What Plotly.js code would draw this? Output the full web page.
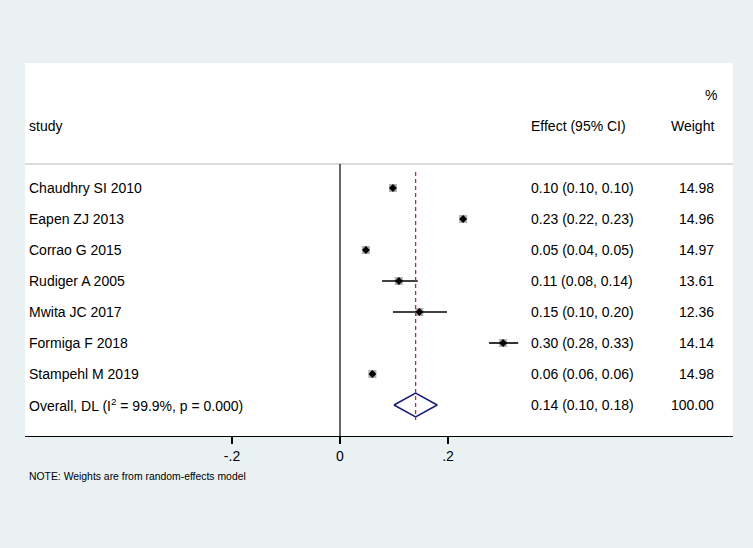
<!DOCTYPE html>
<html>
<head>
<meta charset="utf-8">
<script src="https://cdn.plot.ly/plotly-3.0.1.min.js"></script>
<style>html,body{margin:0;padding:0;background:#eaf1f3;}#chart{width:753px;height:548px;}</style>
</head>
<body>
<div id="chart"></div>
<script>
// ---- data ----
var studies = ["Chaudhry SI 2010","Eapen ZJ 2013","Corrao G 2015","Rudiger A 2005","Mwita JC 2017","Formiga F 2018","Stampehl M 2019"];
var effect  = [0.098, 0.228, 0.048, 0.109, 0.147, 0.302, 0.060];
var lower   = [0.096, 0.224, 0.044, 0.078, 0.098, 0.276, 0.057];
var upper   = [0.100, 0.232, 0.052, 0.144, 0.198, 0.330, 0.063];
var effectText = ["0.10 (0.10, 0.10)","0.23 (0.22, 0.23)","0.05 (0.04, 0.05)","0.11 (0.08, 0.14)","0.15 (0.10, 0.20)","0.30 (0.28, 0.33)","0.06 (0.06, 0.06)"];
var weightText = ["14.98","14.96","14.97","13.61","12.36","14.14","14.98"];
var overallLabel = "Overall, DL (I<sup>2</sup> = 99.9%, p = 0.000)";
var overallEffect = 0.14, overallLower = 0.10, overallUpper = 0.18;
var overallText = "0.14 (0.10, 0.18)", overallWeight = "100.00";
var tickVals = [-0.2, 0, 0.2];
var tickText = ["-.2", "0", ".2"];

// ---- layout helpers ----
var W = 753, H = 548, L = 25, R = 733, T = 63, B = 436;
function px(x){ return (x - L) / (R - L); }
var rows = studies.map(function(_, i){ return i + 1; });
var overallRow = studies.length + 1;
var FONT = "Liberation Sans, Arial, sans-serif";
var dh = 12/31;

var traces = [
  { // weight boxes
    x: effect, y: rows, type: "scatter", mode: "markers",
    marker: {symbol: "square", size: 8, color: "#b0b0b0"},
    hoverinfo: "skip", showlegend: false
  },
  { // CI and point
    x: effect, y: rows, type: "scatter", mode: "markers",
    marker: {symbol: "diamond", size: 6, color: "#000"},
    error_x: {type: "data", symmetric: false,
      array: effect.map(function(e, i){ return upper[i] - e; }),
      arrayminus: effect.map(function(e, i){ return e - lower[i]; }),
      color: "#000", thickness: 1.6, width: 0},
    showlegend: false
  },
  { // overall diamond
    x: [overallLower, overallEffect, overallUpper, overallEffect, overallLower],
    y: [overallRow, overallRow - dh, overallRow, overallRow + dh, overallRow],
    type: "scatter", mode: "lines",
    line: {color: "#1a1a7a", width: 1.5}, showlegend: false, hoverinfo: "skip"
  }
];

var ann = [];
function addText(text, x, y, anchor, size){
  ann.push({text: text, xref: "paper", yref: "y", x: px(x), y: y, xanchor: anchor, yanchor: "middle",
    showarrow: false, font: {family: FONT, size: size || 14, color: "#000"}});
}
addText("%", 719, -2, "right");
addText("study", 27, -1, "left");
addText("Effect (95% CI)", 529, -1, "left");
addText("Weight", 716, -1, "right");
studies.forEach(function(s, i){
  addText(s, 27, rows[i], "left");
  addText(effectText[i], 529, rows[i], "left");
  addText(weightText[i], 716, rows[i], "right");
});
addText(overallLabel, 27, overallRow, "left");
addText(overallText, 529, overallRow, "left");
addText(overallWeight, 716, overallRow, "right");
ann.push({text: "NOTE: Weights are from random-effects model", xref: "paper", yref: "paper",
  x: px(27), y: (H - 476 - 112) / (B - T), xanchor: "left", yanchor: "middle", showarrow: false,
  font: {family: FONT, size: 10.4, color: "#000"}});

var sepRow = 1 - 24/31;
var shapes = [
  {type: "line", xref: "paper", yref: "y", x0: 0, x1: 1, y0: sepRow, y1: sepRow,
   line: {color: "#cfcfcf", width: 1.5}},
  {type: "line", xref: "x", yref: "y", x0: 0, x1: 0, y0: sepRow, y1: 9,
   line: {color: "#000", width: 1.2}},
  {type: "line", xref: "x", yref: "y", x0: overallEffect, x1: overallEffect, y0: 1 - 16/31, y1: 1 + 232/31,
   line: {color: "#c0283c", width: 1.3, dash: "4px,3px"}}
];

var layout = {
  width: W, height: H,
  margin: {l: L, r: W - R, t: T, b: H - B, pad: 0},
  paper_bgcolor: "#eaf1f3", plot_bgcolor: "#ffffff",
  xaxis: {range: [(L - 340)/540, (R - 340)/540], tickvals: tickVals, ticktext: tickText,
    showgrid: false, zeroline: false, showline: true, linecolor: "#000", linewidth: 1.2,
    ticks: "outside", ticklen: 7, tickcolor: "#000", tickwidth: 1.2,
    tickfont: {family: FONT, size: 14, color: "#000"}, fixedrange: true},
  yaxis: {range: [9, 1 - 125/31], showgrid: false, zeroline: false, showline: false,
    showticklabels: false, ticks: "", fixedrange: true},
  showlegend: false,
  annotations: ann, shapes: shapes
};

Plotly.newPlot("chart", traces, layout, {displayModeBar: false, staticPlot: true});
</script>
</body>
</html>
